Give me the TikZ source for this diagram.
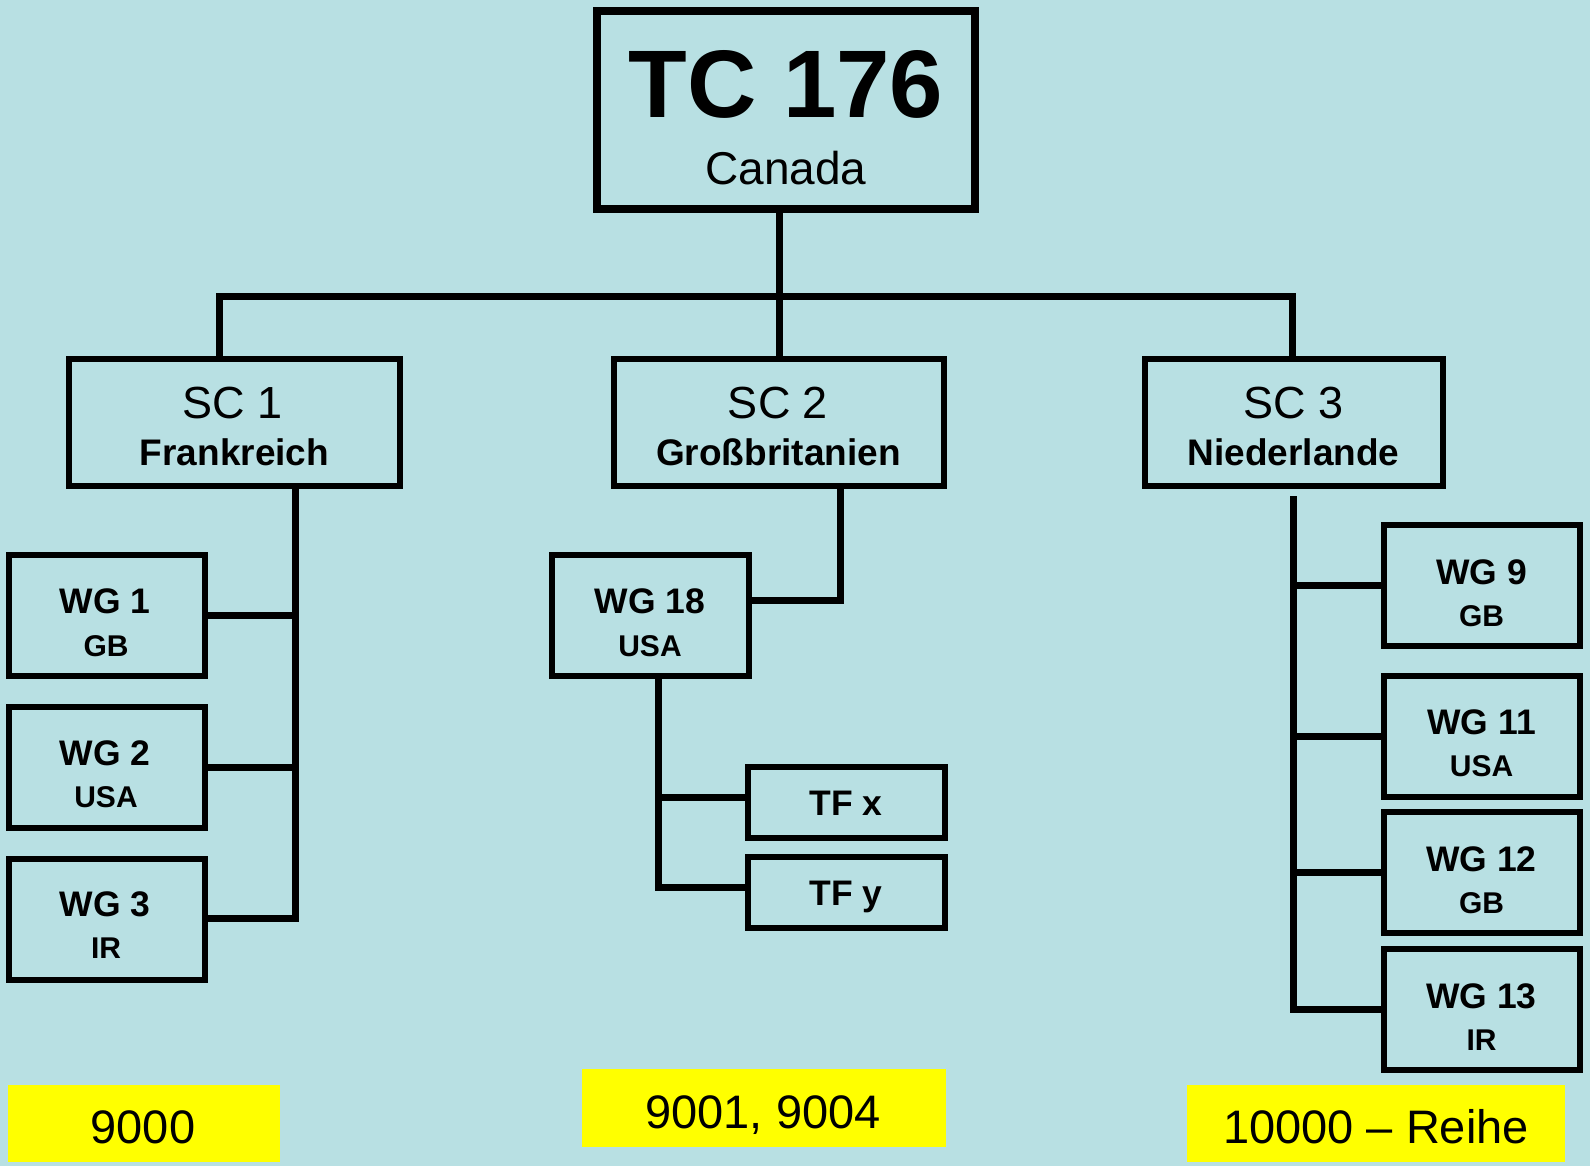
\documentclass[tikz,border=0pt]{standalone}
\usepackage{fontspec}
\setmainfont{Liberation Sans}
\definecolor{bgblue}{RGB}{184,224,227}
\definecolor{yel}{RGB}{255,255,0}
\begin{document}
\begin{tikzpicture}[x=1pt,y=-1pt,
  box/.style={draw=black, line width=6pt, rectangle, inner sep=0pt},
  tcbox/.style={draw=black, line width=8pt, rectangle, inner sep=0pt},
  conn/.style={draw=black, line width=7pt},
  ybox/.style={fill=yel, rectangle, inner sep=0pt},
  txt/.style={anchor=base, inner sep=0pt, text=black},
  ftc/.style={txt, font=\fontsize{96}{96}\selectfont\bfseries},
  fcanada/.style={txt, font=\fontsize{46}{46}\selectfont},
  fsc/.style={txt, font=\fontsize{45}{45}\selectfont},
  fsccountry/.style={txt, font=\fontsize{37}{37}\selectfont\bfseries},
  fwg/.style={txt, font=\fontsize{35.5}{36}\selectfont\bfseries},
  fwgcountry/.style={txt, font=\fontsize{30}{30}\selectfont\bfseries},
  fyel/.style={txt, font=\fontsize{47}{47}\selectfont},
]
\fill[bgblue] (0,0) rectangle (1590,1166);
\useasboundingbox (0,0) rectangle (1590,1166);

% boxes
\node[tcbox, minimum width=378, minimum height=198] (tc) at (786,110) {};
\node[box, minimum width=331, minimum height=127] (sc1) at (234.5,422.5) {};
\node[box, minimum width=330, minimum height=127] (sc2) at (778.5,422.5) {};
\node[box, minimum width=298, minimum height=127] (sc3) at (1293.5,422.5) {};

\node[box, minimum width=196, minimum height=121] (wg1) at (106.5,615.5) {};
\node[box, minimum width=196, minimum height=121] (wg2) at (106.5,767.5) {};
\node[box, minimum width=196, minimum height=121] (wg3) at (106.5,919) {};

\node[box, minimum width=197, minimum height=121] (wg18) at (650,615.5) {};
\node[box, minimum width=197, minimum height=71] (tfx) at (846,802.5) {};
\node[box, minimum width=197, minimum height=71] (tfy) at (846,892.5) {};

\node[box, minimum width=196, minimum height=121] (wg9) at (1481.5,585.5) {};
\node[box, minimum width=196, minimum height=121] (wg11) at (1481.5,736) {};
\node[box, minimum width=196, minimum height=121] (wg12) at (1481.5,872.5) {};
\node[box, minimum width=196, minimum height=121] (wg13) at (1481.5,1009.5) {};

\node[ybox, minimum width=272, minimum height=77] (y1) at (144,1123.5) {};
\node[ybox, minimum width=364, minimum height=78] (y2) at (764,1108) {};
\node[ybox, minimum width=378, minimum height=77] (y3) at (1376,1123.5) {};

% connector junctions
\coordinate (hub) at (779,297);
\coordinate (j1) at (219,297);
\coordinate (j3) at (1292,297);
\coordinate (d1) at (295,918);
\coordinate (k2) at (840,600);
\coordinate (bx) at (658,797);
\coordinate (d18) at (658,887);
\coordinate (s3top) at (1293,496);
\coordinate (d3) at (1293,1009);

% connectors
\draw[conn] (tc.south -| hub) -- (hub);
\draw[conn] (sc1.north -| j1) -- (j1) -- (j3) -- (sc3.north -| j3);
\draw[conn] (hub) -- (sc2.north -| hub);

\draw[conn] (sc1.south -| d1) -- (d1) -- (wg3.east |- d1);
\draw[conn] (wg1.east) -- (wg1.east -| d1);
\draw[conn] (wg2.east) -- (wg2.east -| d1);

\draw[conn] (sc2.south -| k2) -- (k2) -- (wg18.east |- k2);
\draw[conn] (wg18.south -| d18) -- (d18) -- (tfy.west |- d18);
\draw[conn] (bx) -- (tfx.west |- bx);

\draw[conn] (s3top) -- (d3) -- (wg13.west |- d3);
\draw[conn] (wg9.west) -- (wg9.west -| d3);
\draw[conn] (wg11.west) -- (wg11.west -| d3);
\draw[conn] (wg12.west) -- (wg12.west -| d3);

% texts
\node[ftc] (tcA) at (786,118) {TC 176};
\node[fcanada] (tcB) at (786,185) {Canada};

\node[fsc] (sc1A) at (233,418) {SC 1};
\node[fsccountry] (sc1B) at (234.5,465) {Frankreich};
\node[fsc] (sc2A) at (778,418) {SC 2};
\node[fsccountry] (sc2B) at (778.5,465) {Großbritanien};
\node[fsc] (sc3A) at (1293.5,418) {SC 3};
\node[fsccountry] (sc3B) at (1293.5,465) {Niederlande};

\node[fwg] (wg1A) at (105,613) {WG 1};
\node[fwgcountry] (wg1B) at (106,656) {GB};
\node[fwg] (wg2A) at (105,765) {WG 2};
\node[fwgcountry] (wg2B) at (106,807) {USA};
\node[fwg] (wg3A) at (105,916.5) {WG 3};
\node[fwgcountry] (wg3B) at (106,958) {IR};

\node[fwg] (wg18A) at (650,613) {WG 18};
\node[fwgcountry] (wg18B) at (650,656) {USA};
\node[fwg] (tfxA) at (846,815) {TF x};
\node[fwg] (tfyA) at (846,905) {TF y};

\node[fwg] (wg9A) at (1481.5,584) {WG 9};
\node[fwgcountry] (wg9B) at (1481.5,626) {GB};
\node[fwg] (wg11A) at (1481.5,734.5) {WG 11};
\node[fwgcountry] (wg11B) at (1481.5,776.5) {USA};
\node[fwg] (wg12A) at (1481.5,871) {WG 12};
\node[fwgcountry] (wg12B) at (1481.5,913) {GB};
\node[fwg] (wg13A) at (1481.5,1008) {WG 13};
\node[fwgcountry] (wg13B) at (1481.5,1050) {IR};

\node[fyel] (y1A) at (143,1143) {9000};
\node[fyel] (y2A) at (763,1128) {9001, 9004};
\node[fyel] (y3A) at (1376,1143) {10000 – Reihe};
\end{tikzpicture}
\end{document}
